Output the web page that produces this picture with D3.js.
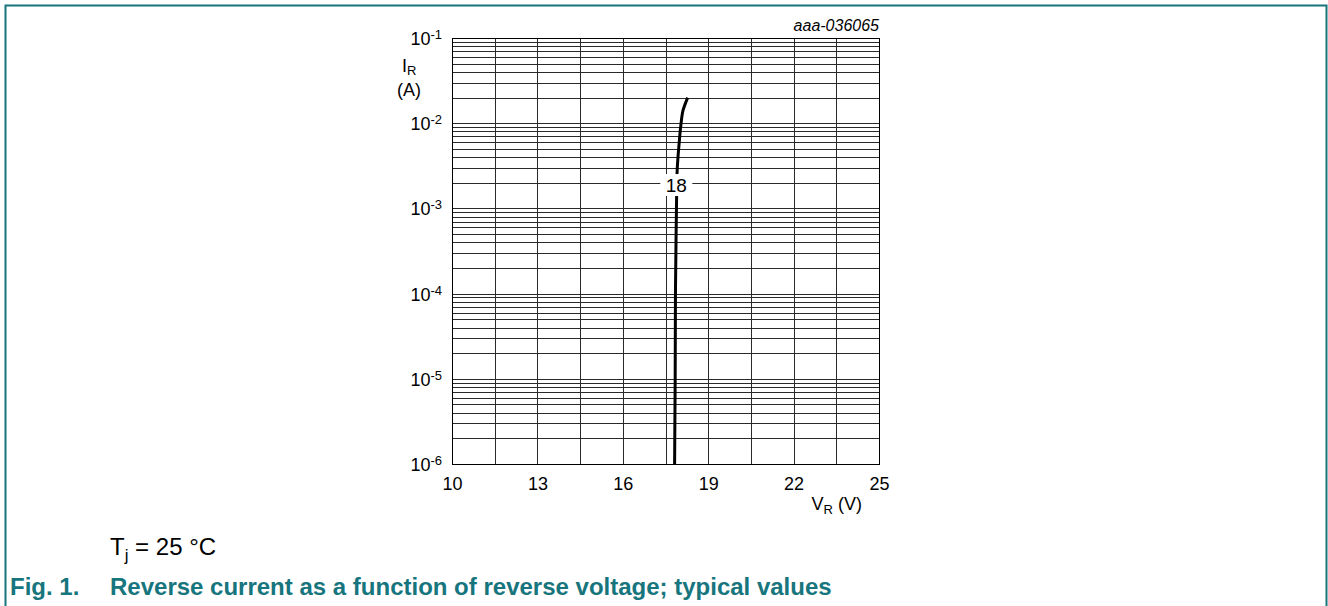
<!DOCTYPE html>
<html><head><meta charset="utf-8">
<script src="https://cdn.jsdelivr.net/npm/d3@7"></script>
<style>
body{margin:0;background:#fff;}
svg{display:block;font-family:"Liberation Sans",Arial,sans-serif;}
</style></head>
<body>
<svg id="c" width="1328" height="606"></svg>
<script>
// Data
const xTicks = [10, 13, 16, 19, 22, 25];
const xGrid = [10, 11.5, 13, 14.5, 16, 17.5, 19, 20.5, 22, 23.5, 25];
const yDecades = [-6, -5, -4, -3, -2, -1];
const curveV = [17.82, 17.84, 17.85, 17.87, 17.89, 17.91, 17.98, 18.04, 18.12, 18.28];
const curveI = [1e-6, 1e-5, 1e-4, 4.3e-4, 1.35e-3, 2.8e-3, 5.9e-3, 9.5e-3, 1.43e-2, 2.0e-2];
const curveLabel = "18";
const labelI = 1.88e-3;

const svg = d3.select("#c");
const teal = "#17757d";
const L = 452, R = 879, T = 38, B = 464;
const x = d3.scaleLinear().domain([10, 25]).range([L, R]);
const y = d3.scaleLog().domain([1e-6, 1e-1]).range([B, T]);

// frame
svg.append("path")
  .attr("d", `M5.5,606 L5.5,5.5 L1326.5,5.5 L1326.5,606`)
  .attr("fill", "none").attr("stroke", teal).attr("stroke-width", 2);

// grid
const g = svg.append("g").attr("shape-rendering", "crispEdges");
const hVals = [];
for (let d = -6; d <= -2; d++) {
  for (let m = 1; m <= 9; m++) hVals.push(m * Math.pow(10, d));
}
g.selectAll("line.h").data(hVals).join("line")
  .attr("x1", L).attr("x2", R)
  .attr("y1", d => Math.round(y(d)) + 0.5).attr("y2", d => Math.round(y(d)) + 0.5)
  .attr("stroke", "#2a2a2a").attr("stroke-width", 1);
g.selectAll("line.v").data(xGrid).join("line")
  .attr("y1", T).attr("y2", B)
  .attr("x1", d => Math.round(x(d)) + 0.5).attr("x2", d => Math.round(x(d)) + 0.5)
  .attr("stroke", "#2a2a2a").attr("stroke-width", 1);
svg.append("rect").attr("x", L + 0.5).attr("y", Math.round(T) + 0.5)
  .attr("width", Math.round(R) - L).attr("height", Math.round(B) - Math.round(T))
  .attr("fill", "none").attr("stroke", "#000").attr("stroke-width", 1.2)
  .attr("shape-rendering", "crispEdges");

// x axis
const xAxis = d3.axisBottom(x).tickValues(xTicks).tickSize(0).tickPadding(0).tickFormat(d3.format("d"));
const xa = svg.append("g").attr("transform", `translate(0,490)`).call(xAxis);
xa.select(".domain").remove();
xa.selectAll("text").attr("y", 0).attr("dy", 0).attr("font-size", 18).attr("fill", "#000")
  .attr("font-family", "Liberation Sans, Arial, sans-serif");

// y axis labels
const ya = svg.append("g");
yDecades.forEach(d => {
  const t = ya.append("text").attr("x", 442).attr("y", y(Math.pow(10, d)) + 7)
    .attr("text-anchor", "end").attr("font-size", 18).attr("fill", "#000");
  t.append("tspan").text("10");
  t.append("tspan").attr("dy", -6).attr("font-size", 13).text(String(d));
});

// axis titles
const yt = svg.append("text").attr("x", 402).attr("y", 72).attr("font-size", 18);
yt.append("tspan").text("I");
yt.append("tspan").attr("dy", 3).attr("font-size", 13).text("R");
svg.append("text").attr("x", 397).attr("y", 96).attr("font-size", 18).text("(A)");

const xt = svg.append("text").attr("x", 862).attr("y", 510).attr("font-size", 18).attr("text-anchor", "end");
xt.append("tspan").text("V");
xt.append("tspan").attr("dy", 4).attr("font-size", 13).text("R");
xt.append("tspan").attr("dy", -4).text(" (V)");

svg.append("text").attr("x", 879).attr("y", 31).attr("font-size", 16).attr("font-style", "italic")
  .attr("text-anchor", "end").text("aaa-036065");

// curve
const pts = curveV.map((v, i) => [v, curveI[i]]);
const line = d3.line().x(d => x(d[0])).y(d => y(d[1])).curve(d3.curveMonotoneY);
svg.append("path").datum(pts).attr("d", line)
  .attr("fill", "none").attr("stroke", "#000").attr("stroke-width", 3);

// curve label
const lx = x(17.88), ly = y(labelI);
svg.append("rect").attr("x", lx - 16).attr("y", ly - 11).attr("width", 32).attr("height", 22).attr("fill", "#fff");
svg.append("text").attr("x", lx).attr("y", ly + 7).attr("text-anchor", "middle").attr("font-size", 19).text(curveLabel);

// notes
const tj = svg.append("text").attr("x", 110).attr("y", 555).attr("font-size", 24);
tj.append("tspan").text("T");
tj.append("tspan").attr("dy", 6).attr("font-size", 17).text("j");
tj.append("tspan").attr("dy", -6).text(" = 25 °C");

svg.append("text").attr("x", 10).attr("y", 595).attr("font-size", 24).attr("font-weight", "bold")
  .attr("fill", teal).text("Fig. 1.");
svg.append("text").attr("x", 110).attr("y", 595).attr("font-size", 24).attr("font-weight", "bold")
  .attr("fill", teal).text("Reverse current as a function of reverse voltage; typical values");
</script>
</body></html>
